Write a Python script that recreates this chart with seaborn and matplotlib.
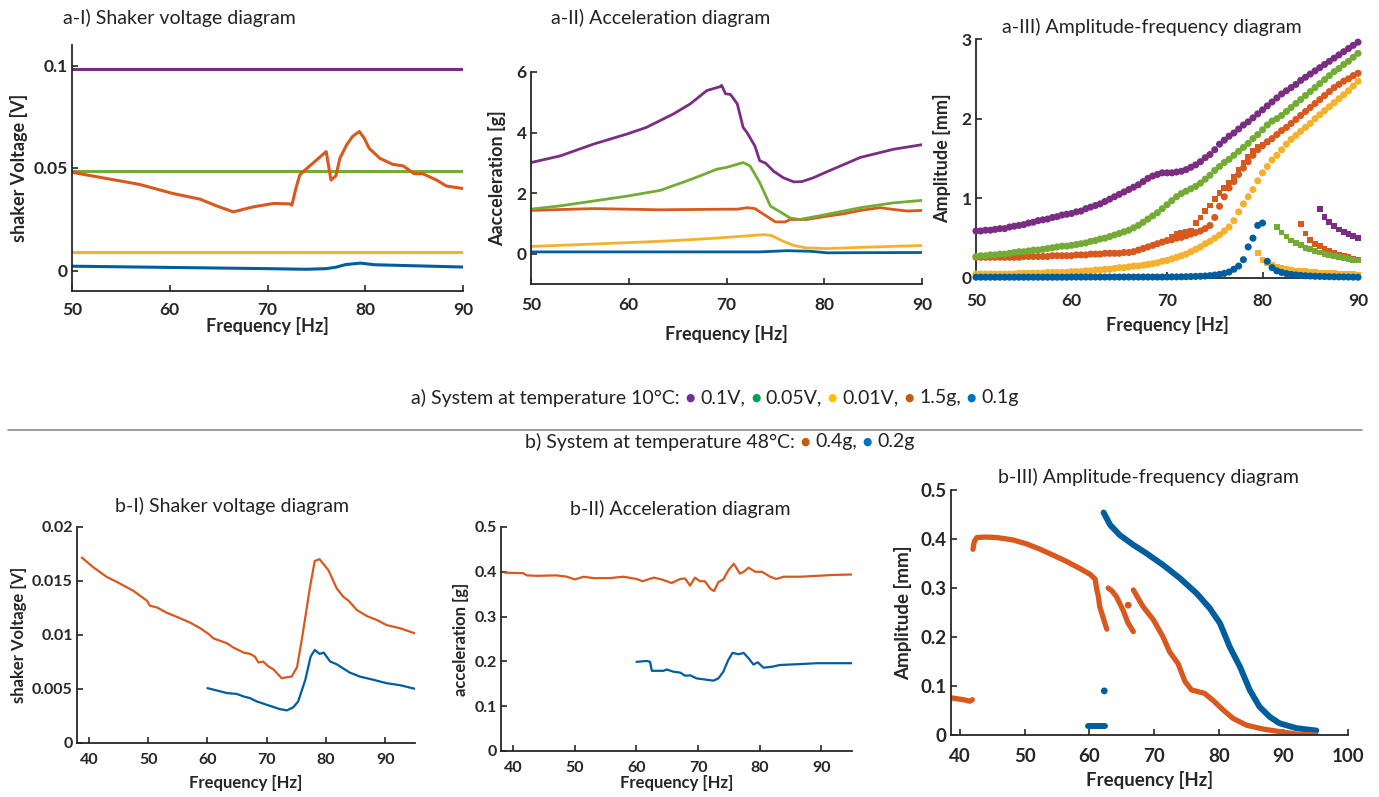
import numpy as np
import pandas as pd
import matplotlib
matplotlib.use("Agg")
import matplotlib.pyplot as plt
import seaborn as sns
from matplotlib.offsetbox import TextArea, HPacker, AnnotationBbox
from matplotlib.lines import Line2D

sns.set_style("ticks")
plt.rcParams['font.family'] = ['Lato', 'DejaVu Sans']

# ---------------- colours ----------------
PURPLE = '#7B2C83'
GREEN = '#72AC35'
YELLOW = '#F7B02B'
ORANGE = '#D9581E'
BLUE = '#005E9E'
DARK = '#262626'

# ---------------- a-I) shaker voltage (10 C) ----------------
A1_V_PURPLE = 0.0985
A1_V_GREEN = 0.0487
A1_V_YELLOW = 0.0092
A1_F_ORANGE = [50.0, 56.9, 60.3, 63.1, 64.8, 66.5, 68.5, 70.6, 72.3, 72.5, 72.9, 73.3, 73.6,
               76.0, 76.5, 77.0, 77.4, 78.1, 78.7, 79.4, 79.9, 80.4, 81.5, 82.8, 83.9, 85.0,
               85.9, 87.3, 88.3, 90.0]
A1_V_ORANGE = [0.0479, 0.0420, 0.0376, 0.0348, 0.0315, 0.0286, 0.0310, 0.0327, 0.0325, 0.0319,
               0.0400, 0.0466, 0.0480, 0.0580, 0.0441, 0.0462, 0.0547, 0.0613, 0.0654, 0.0678,
               0.0645, 0.0596, 0.0547, 0.0518, 0.0510, 0.0472, 0.0472, 0.0441, 0.0412, 0.0400]
A1_F_BLUE = [50.0, 60.0, 70.0, 74.0, 76.0, 77.0, 78.0, 79.5, 81.0, 85.0, 90.0]
A1_V_BLUE = [0.0021, 0.0015, 0.0009, 0.0006, 0.0009, 0.0016, 0.0029, 0.0036, 0.0028, 0.0023, 0.0017]

# ---------------- a-II) acceleration (10 C) ----------------
A2_F_PURPLE = [50.0, 53.0, 56.4, 59.8, 61.8, 64.6, 66.3, 68.0, 69.4, 69.5, 69.9, 70.4, 71.1,
               71.7, 72.1, 72.9, 73.4, 74.0, 74.8, 75.8, 76.9, 77.7, 78.9, 80.3, 83.7, 87.1, 90.0]
A2_G_PURPLE = [3.01, 3.23, 3.62, 3.95, 4.17, 4.62, 4.95, 5.39, 5.52, 5.56, 5.28, 5.26, 4.95,
               4.17, 4.00, 3.56, 3.07, 2.99, 2.73, 2.51, 2.37, 2.38, 2.51, 2.71, 3.18, 3.45, 3.60]
A2_F_GREEN = [50.0, 53.0, 56.4, 59.8, 63.2, 65.9, 67.3, 69.0, 70.0, 71.7, 72.4, 73.4, 74.5,
              75.5, 76.5, 77.5, 80.3, 83.7, 87.1, 90.0]
A2_G_GREEN = [1.47, 1.58, 1.74, 1.90, 2.09, 2.40, 2.57, 2.79, 2.85, 3.01, 2.90, 2.35, 1.57,
              1.38, 1.18, 1.13, 1.30, 1.52, 1.68, 1.76]
A2_F_ORANGE = [50.0, 56.4, 63.2, 70.0, 71.1, 72.1, 72.9, 74.1, 75.0, 76.0, 76.5, 78.2, 80.3,
               82.0, 83.7, 85.7, 87.1, 88.5, 90.0]
A2_G_ORANGE = [1.43, 1.49, 1.45, 1.47, 1.47, 1.52, 1.49, 1.24, 1.05, 1.05, 1.13, 1.13, 1.24,
               1.32, 1.43, 1.52, 1.46, 1.41, 1.43]
A2_F_YELLOW = [50.0, 56.4, 63.2, 68.3, 71.7, 73.8, 74.6, 75.8, 76.9, 78.2, 80.3, 83.7, 90.0]
A2_G_YELLOW = [0.24, 0.32, 0.41, 0.50, 0.58, 0.63, 0.60, 0.41, 0.27, 0.19, 0.17, 0.21, 0.27]
A2_F_BLUE = [50.0, 73.4, 76.2, 78.6, 80.3, 90.0]
A2_G_BLUE = [0.06, 0.06, 0.10, 0.08, 0.03, 0.04]

# ---------------- a-III) amplitude-frequency (10 C) ----------------
A3_F = [50.0, 50.5, 51.0, 51.5, 52.0, 52.5, 53.0, 53.5, 54.0, 54.5,
        55.0, 55.5, 56.0, 56.5, 57.0, 57.5, 58.0, 58.5, 59.0, 59.5,
        60.0, 60.5, 61.0, 61.5, 62.0, 62.5, 63.0, 63.5, 64.0, 64.5,
        65.0, 65.5, 66.0, 66.5, 67.0, 67.5, 68.0, 68.5, 69.0, 69.5,
        70.0, 70.5, 71.0, 71.5, 72.0, 72.5, 73.0, 73.5, 74.0, 74.5,
        75.0, 75.5, 76.0, 76.5, 77.0, 77.5, 78.0, 78.5, 79.0, 79.5,
        80.0, 80.5, 81.0, 81.5, 82.0, 82.5, 83.0, 83.5, 84.0, 84.5,
        85.0, 85.5, 86.0, 86.5, 87.0, 87.5, 88.0, 88.5, 89.0, 89.5,
        90.0]
A3_PURPLE = [0.59, 0.59, 0.60, 0.60, 0.61, 0.62, 0.62, 0.64, 0.65, 0.66,
             0.67, 0.69, 0.70, 0.72, 0.73, 0.74, 0.76, 0.77, 0.79, 0.80,
             0.81, 0.83, 0.84, 0.87, 0.89, 0.91, 0.93, 0.96, 0.99, 1.02,
             1.05, 1.08, 1.11, 1.14, 1.17, 1.21, 1.25, 1.28, 1.30, 1.32,
             1.32, 1.32, 1.33, 1.34, 1.36, 1.39, 1.42, 1.46, 1.51, 1.55,
             1.61, 1.68, 1.73, 1.78, 1.82, 1.87, 1.92, 1.96, 2.01, 2.06,
             2.11, 2.16, 2.21, 2.26, 2.31, 2.35, 2.39, 2.43, 2.48, 2.52,
             2.56, 2.60, 2.64, 2.68, 2.72, 2.76, 2.80, 2.84, 2.88, 2.92,
             2.96]
A3_GREEN = [0.27, 0.28, 0.28, 0.29, 0.29, 0.30, 0.30, 0.31, 0.32, 0.33,
            0.33, 0.34, 0.35, 0.35, 0.36, 0.37, 0.38, 0.39, 0.40, 0.40,
            0.41, 0.42, 0.43, 0.44, 0.46, 0.47, 0.49, 0.50, 0.52, 0.54,
            0.56, 0.58, 0.60, 0.63, 0.66, 0.70, 0.74, 0.78, 0.82, 0.87,
            0.92, 0.97, 1.02, 1.06, 1.09, 1.12, 1.15, 1.19, 1.24, 1.29,
            1.35, 1.40, 1.45, 1.49, 1.54, 1.59, 1.64, 1.69, 1.75, 1.80,
            1.86, 1.92, 1.97, 2.00, 2.04, 2.09, 2.14, 2.19, 2.24, 2.29,
            2.34, 2.39, 2.44, 2.49, 2.54, 2.59, 2.63, 2.68, 2.72, 2.77,
            2.82]
A3_ORANGE = [0.26, 0.26, 0.26, 0.26, 0.26, 0.26, 0.26, 0.26, 0.26, 0.26,
             0.27, 0.27, 0.27, 0.27, 0.27, 0.27, 0.28, 0.28, 0.28, 0.28,
             0.28, 0.29, 0.29, 0.29, 0.30, 0.30, 0.30, 0.31, 0.31, 0.31,
             0.31, 0.32, 0.32, 0.33, 0.35, 0.37, 0.39, 0.41, 0.43, 0.45,
             0.47, 0.48, 0.50, 0.51, 0.53, 0.55, 0.57, 0.59, 0.62, 0.66,
             0.76, 0.90, 1.02, 1.13, 1.21, 1.30, 1.38, 1.46, 1.54, 1.61,
             1.66, 1.71, 1.75, 1.80, 1.85, 1.89, 1.94, 1.99, 2.04, 2.09,
             2.14, 2.19, 2.24, 2.29, 2.34, 2.39, 2.43, 2.47, 2.50, 2.54,
             2.57]
A3_YELLOW = [0.05, 0.05, 0.05, 0.05, 0.05, 0.05, 0.05, 0.05, 0.05, 0.06,
             0.06, 0.06, 0.06, 0.06, 0.06, 0.07, 0.07, 0.07, 0.07, 0.07,
             0.08, 0.08, 0.08, 0.09, 0.09, 0.10, 0.10, 0.11, 0.11, 0.12,
             0.13, 0.13, 0.14, 0.15, 0.15, 0.16, 0.17, 0.18, 0.19, 0.21,
             0.22, 0.24, 0.26, 0.28, 0.30, 0.33, 0.36, 0.39, 0.43, 0.46,
             0.50, 0.54, 0.59, 0.64, 0.72, 0.83, 0.93, 1.02, 1.11, 1.22,
             1.32, 1.40, 1.48, 1.54, 1.61, 1.68, 1.74, 1.79, 1.84, 1.89,
             1.94, 2.00, 2.05, 2.10, 2.15, 2.20, 2.25, 2.30, 2.35, 2.41,
             2.47]
A3_BLUE = [0.010, 0.010, 0.010, 0.010, 0.010, 0.010, 0.010, 0.010, 0.010, 0.010,
           0.010, 0.010, 0.010, 0.010, 0.010, 0.010, 0.010, 0.010, 0.010, 0.010,
           0.012, 0.012, 0.012, 0.012, 0.012, 0.012, 0.012, 0.012, 0.012, 0.012,
           0.012, 0.012, 0.012, 0.012, 0.012, 0.012, 0.012, 0.012, 0.012, 0.012,
           0.013, 0.014, 0.014, 0.015, 0.016, 0.018, 0.020, 0.022, 0.025, 0.030,
           0.037, 0.046, 0.058, 0.075, 0.110, 0.150, 0.230, 0.390, 0.500, 0.660,
           0.690, 0.210, 0.130, 0.090, 0.070, 0.055, 0.045, 0.038, 0.032, 0.028,
           0.025, 0.022, 0.020, 0.018, 0.016, 0.015, 0.014, 0.013, 0.012, 0.011,
           0.010]
# square markers: other sweep direction, where it differs from the main curve
A3_SQ_OR_UP_F = [70.5, 71.0, 71.5, 72.0, 72.5, 73.0, 73.5, 74.0, 74.5, 75.0, 75.5,
                 76.0, 76.5, 77.0, 77.5, 78.0, 78.5, 79.0, 79.5, 80.0, 80.5]
A3_SQ_OR_UP = [0.52, 0.55, 0.57, 0.58, 0.59, 0.69, 0.76, 0.84, 0.91, 0.99, 1.07,
               1.13, 1.20, 1.27, 1.36, 1.44, 1.52, 1.59, 1.64, 1.67, 1.70]
A3_SQ_PU_F = [86.0, 86.5, 87.0, 87.5, 88.0, 88.5, 89.0, 89.5, 90.0]
A3_SQ_PU = [0.87, 0.77, 0.70, 0.65, 0.61, 0.58, 0.55, 0.53, 0.50]
A3_SQ_GR_F = [81.5, 82.0, 82.5, 83.0, 83.5, 84.0, 84.5, 85.0, 85.5, 86.0, 86.5, 87.0,
              87.5, 88.0, 88.5, 89.0, 89.5, 90.0]
A3_SQ_GR = [0.64, 0.57, 0.52, 0.47, 0.44, 0.41, 0.38, 0.36, 0.34, 0.32, 0.30, 0.29,
            0.275, 0.265, 0.25, 0.24, 0.23, 0.22]
A3_SQ_OR_F = [84.0, 84.5, 85.0, 85.5, 86.0, 86.5, 87.0, 87.5, 88.0, 88.5, 89.0, 89.5, 90.0]
A3_SQ_OR = [0.68, 0.56, 0.48, 0.43, 0.40, 0.37, 0.34, 0.31, 0.29, 0.28, 0.26, 0.24, 0.23]
A3_SQ_YE_F = [79.5, 80.0, 80.5, 81.0, 81.5, 82.0, 82.5, 83.0, 83.5, 84.0, 84.5, 85.0,
              85.5, 86.0, 86.5, 87.0, 87.5, 88.0, 88.5, 89.0, 89.5, 90.0]
A3_SQ_YE = [0.31, 0.23, 0.19, 0.16, 0.14, 0.125, 0.11, 0.10, 0.095, 0.09, 0.085, 0.08,
            0.075, 0.07, 0.067, 0.063, 0.06, 0.057, 0.054, 0.05, 0.048, 0.045]

# ---------------- b-I) shaker voltage (48 C) ----------------
B1_F_ORANGE = [38.8, 40.8, 43.0, 44.7, 47.5, 49.8, 50.3, 51.5, 53.1, 54.8, 57.1, 58.8, 60.2,
               61.0, 63.3, 64.4, 66.1, 67.2, 68.0, 68.6, 69.4, 70.3, 71.1, 72.5, 73.4, 74.2,
               75.1, 75.9, 77.3, 78.1, 78.9, 80.4, 81.8, 82.9, 83.8, 85.2, 86.9, 88.6, 90.2,
               92.5, 95.0]
B1_V_ORANGE = [0.01717, 0.01625, 0.01538, 0.01492, 0.01409, 0.01317, 0.01271, 0.01255,
               0.01206, 0.01169, 0.01114, 0.01062, 0.01009, 0.00969, 0.00923, 0.00883,
               0.00837, 0.00825, 0.00800, 0.00745, 0.00754, 0.00708, 0.00683, 0.00600,
               0.00609, 0.00615, 0.00702, 0.00954, 0.01446, 0.01686, 0.01702, 0.01600,
               0.01431, 0.01354, 0.01317, 0.01231, 0.01175, 0.01138, 0.01092, 0.01062,
               0.01015]
B1_F_BLUE = [60.0, 61.6, 63.3, 64.9, 66.1, 67.2, 68.3, 70.0, 72.2, 73.4, 74.5, 75.3, 76.5,
             77.4, 78.1, 78.9, 79.6, 80.7, 81.8, 84.0, 85.7, 88.0, 90.2, 92.5, 95.0]
B1_V_BLUE = [0.00508, 0.00486, 0.00462, 0.00455, 0.00431, 0.00415, 0.00385, 0.00354,
             0.00314, 0.00302, 0.00332, 0.00385, 0.00585, 0.00800, 0.00862, 0.00825,
             0.00837, 0.00754, 0.00729, 0.00652, 0.00615, 0.00585, 0.00554, 0.00535,
             0.00502]

# ---------------- b-II) acceleration (48 C) ----------------
B2_F_ORANGE = [38.6, 41.6, 42.2, 43.8, 47.0, 48.7, 50.0, 51.4, 53.0, 55.7, 57.9, 60.0, 61.0,
               62.8, 64.1, 65.7, 67.1, 67.9, 68.7, 69.5, 70.3, 71.1, 72.0, 72.6, 73.3, 74.1,
               74.9, 75.8, 76.8, 77.4, 78.2, 79.3, 80.4, 81.7, 82.7, 83.9, 86.6, 89.3, 92.0,
               95.0]
B2_G_ORANGE = [0.398, 0.397, 0.392, 0.391, 0.392, 0.389, 0.383, 0.389, 0.386, 0.386, 0.389,
               0.384, 0.379, 0.387, 0.383, 0.375, 0.384, 0.385, 0.369, 0.387, 0.379, 0.379,
               0.362, 0.357, 0.377, 0.383, 0.403, 0.418, 0.396, 0.400, 0.409, 0.400, 0.400,
               0.389, 0.384, 0.389, 0.389, 0.391, 0.393, 0.394]
B2_F_BLUE = [60.0, 61.7, 62.2, 62.5, 64.4, 64.9, 66.0, 67.1, 67.9, 68.7, 69.8, 70.9, 72.5,
             73.3, 74.1, 74.9, 75.6, 76.6, 77.4, 78.2, 79.0, 79.7, 80.6, 82.0, 83.3, 86.6,
             89.3, 95.0]
B2_G_BLUE = [0.199, 0.201, 0.199, 0.179, 0.179, 0.182, 0.177, 0.175, 0.168, 0.169, 0.162,
             0.160, 0.157, 0.162, 0.177, 0.203, 0.219, 0.216, 0.219, 0.207, 0.193, 0.198,
             0.186, 0.188, 0.192, 0.194, 0.196, 0.196]

# ---------------- b-III) amplitude-frequency (48 C) ----------------
B3_OR1_F = [38.6, 39.5, 40.5, 41.5, 41.9]
B3_OR1_A = [0.076, 0.074, 0.072, 0.069, 0.072]
B3_OR2_F = [42.0, 42.2, 42.6, 44.0, 45.7, 48.2, 50.3, 52.4, 54.4, 56.5, 58.5, 60.1, 60.9,
            61.1, 61.4, 61.6, 62.1, 62.4, 62.7]
B3_OR2_A = [0.379, 0.395, 0.403, 0.404, 0.403, 0.398, 0.390, 0.379, 0.367, 0.354, 0.340,
            0.328, 0.318, 0.300, 0.282, 0.262, 0.241, 0.228, 0.216]
B3_OR3_F = [62.9, 63.5, 64.2, 65.2, 66.0, 66.8]
B3_OR3_A = [0.300, 0.294, 0.282, 0.255, 0.228, 0.211]
B3_OR4_F = [66.8, 68.3, 69.9, 71.4, 72.4, 73.7, 74.8, 75.8, 77.8, 79.1, 80.7, 82.2, 84.3,
            86.9, 89.4, 92.0, 95.1]
B3_OR4_A = [0.296, 0.262, 0.235, 0.200, 0.170, 0.146, 0.109, 0.092, 0.085, 0.071, 0.051,
            0.034, 0.020, 0.012, 0.007, 0.002, 0.000]
B3_OR_DOT_F = [66.0]
B3_OR_DOT_A = [0.265]
B3_BL1_F = [59.8, 61.0, 62.4]
B3_BL1_A = [0.018, 0.018, 0.018]
B3_BL2_F = [62.2, 63.2, 64.7, 66.8, 68.8, 71.4, 74.0, 76.6, 78.6, 80.2, 81.7, 83.3, 84.8,
            86.3, 87.9, 89.4, 92.0, 95.1]
B3_BL2_A = [0.454, 0.429, 0.408, 0.388, 0.371, 0.347, 0.320, 0.289, 0.259, 0.228, 0.180,
            0.139, 0.092, 0.058, 0.037, 0.024, 0.014, 0.009]
B3_BL_DOT_F = [62.3]
B3_BL_DOT_A = [0.090]

# ---------------- figure ----------------
W, H = 1379, 797
fig = plt.figure(figsize=(W / 100, H / 100), dpi=100)


def px_axes(l, r, t, b):
    return fig.add_axes([l / W, 1 - b / H, (r - l) / W, (b - t) / H])


def style(ax, xlim, ylim, xticks, yticks, ylabels, tfs, lfs, xlabel, ylabel, xpad, ypad, xtpad):
    ax.set_xlim(*xlim)
    ax.set_ylim(*ylim)
    ax.set_xticks(xticks)
    ax.set_xticklabels([str(t) for t in xticks])
    ax.set_yticks(yticks)
    ax.set_yticklabels(ylabels)
    sns.despine(ax=ax)
    for s in ('left', 'bottom'):
        ax.spines[s].set_color(DARK)
        ax.spines[s].set_linewidth(1.3)
    ax.tick_params(direction='in', length=4, width=1.2, colors=DARK, labelsize=tfs, pad=3)
    ax.tick_params(axis='x', pad=xtpad)
    for lbl in ax.get_xticklabels() + ax.get_yticklabels():
        lbl.set_fontweight('bold')
    ax.set_xlabel(xlabel, fontsize=lfs, fontweight='bold', color=DARK, labelpad=xpad)
    ax.set_ylabel(ylabel, fontsize=lfs, fontweight='bold', color=DARK, labelpad=ypad)


def line(ax, x, y, c, lw):
    sns.lineplot(x=x, y=y, ax=ax, color=c, lw=lw, estimator=None, sort=False,
                 solid_capstyle='round')


def dots(ax, x, y, c, s, marker='o'):
    sns.scatterplot(x=x, y=y, ax=ax, color=c, s=s, marker=marker, linewidth=0,
                    edgecolor='none', clip_on=False, zorder=3)


# a-I
ax = px_axes(72, 463, 45, 291)
line(ax, [50, 90], [A1_V_PURPLE, A1_V_PURPLE], PURPLE, 2.2)
line(ax, [50, 90], [A1_V_GREEN, A1_V_GREEN], GREEN, 2.2)
line(ax, [50, 90], [A1_V_YELLOW, A1_V_YELLOW], YELLOW, 2.2)
line(ax, A1_F_ORANGE, A1_V_ORANGE, ORANGE, 2.2)
line(ax, A1_F_BLUE, A1_V_BLUE, BLUE, 2.2)
style(ax, (50, 90), (-0.01, 0.11), [50, 60, 70, 80, 90], [0, 0.05, 0.1], ['0', '0.05', '0.1'],
      12.5, 13, 'Frequency [Hz]', 'shaker Voltage [V]', -1, 4, 8)

# a-II
ax = px_axes(531, 922, 72, 284)
line(ax, A2_F_PURPLE, A2_G_PURPLE, PURPLE, 2.0)
line(ax, A2_F_ORANGE, A2_G_ORANGE, ORANGE, 2.0)
line(ax, A2_F_GREEN, A2_G_GREEN, GREEN, 2.0)
line(ax, A2_F_YELLOW, A2_G_YELLOW, YELLOW, 2.0)
line(ax, A2_F_BLUE, A2_G_BLUE, BLUE, 2.0)
style(ax, (50, 90), (-1, 6), [50, 60, 70, 80, 90], [0, 2, 4, 6], ['0', '2', '4', '6'],
      12.5, 13, 'Frequency [Hz]', 'Aacceleration [g]', 9, 8, 9)

# a-III
ax = px_axes(976, 1358, 39, 278)
dots(ax, A3_F, A3_YELLOW, YELLOW, 26)
dots(ax, A3_SQ_YE_F, A3_SQ_YE, YELLOW, 17, 's')
dots(ax, A3_F, A3_BLUE, BLUE, 26)
dots(ax, A3_F, A3_ORANGE, ORANGE, 26)
dots(ax, A3_SQ_OR_UP_F, A3_SQ_OR_UP, ORANGE, 17, 's')
dots(ax, A3_SQ_OR_F, A3_SQ_OR, ORANGE, 17, 's')
dots(ax, A3_F, A3_GREEN, GREEN, 26)
dots(ax, A3_SQ_GR_F, A3_SQ_GR, GREEN, 17, 's')
dots(ax, A3_F, A3_PURPLE, PURPLE, 26)
dots(ax, A3_SQ_PU_F, A3_SQ_PU, PURPLE, 17, 's')
style(ax, (50, 90), (0, 3), [50, 60, 70, 80, 90], [0, 1, 2, 3], ['0', '1', '2', '3'],
      12.5, 13, 'Frequency [Hz]', 'Amplitude [mm]', 5, 8, 11)

# b-I
ax = px_axes(77, 415, 527, 743)
line(ax, B1_F_ORANGE, B1_V_ORANGE, ORANGE, 1.6)
line(ax, B1_F_BLUE, B1_V_BLUE, BLUE, 1.6)
style(ax, (38, 95), (0, 0.02), [40, 50, 60, 70, 80, 90], [0, 0.005, 0.01, 0.015, 0.02],
      ['0', '0.005', '0.01', '0.015', '0.02'], 11.5, 12, 'Frequency [Hz]',
      'shaker Voltage [V]', 6, 4, 7)

# b-II
ax = px_axes(501, 852, 527, 751)
line(ax, B2_F_ORANGE, B2_G_ORANGE, ORANGE, 1.6)
line(ax, B2_F_BLUE, B2_G_BLUE, BLUE, 1.6)
style(ax, (38, 95), (0, 0.5), [40, 50, 60, 70, 80, 90], [0, 0.1, 0.2, 0.3, 0.4, 0.5],
      ['0', '0.1', '0.2', '0.3', '0.4', '0.5'], 11.5, 12, 'Frequency [Hz]',
      'acceleration [g]', 0, 4, 7)

# b-III
ax = px_axes(951, 1348, 490, 735)
line(ax, B3_BL1_F, B3_BL1_A, BLUE, 4.3)
line(ax, B3_BL2_F, B3_BL2_A, BLUE, 4.3)
dots(ax, B3_BL_DOT_F, B3_BL_DOT_A, BLUE, 24)
line(ax, B3_OR1_F, B3_OR1_A, ORANGE, 3.8)
line(ax, B3_OR2_F, B3_OR2_A, ORANGE, 3.8)
line(ax, B3_OR3_F, B3_OR3_A, ORANGE, 3.8)
line(ax, B3_OR4_F, B3_OR4_A, ORANGE, 3.8)
dots(ax, B3_OR_DOT_F, B3_OR_DOT_A, ORANGE, 24)
style(ax, (38.6, 100), (0, 0.5), [40, 50, 60, 70, 80, 90, 100], [0, 0.1, 0.2, 0.3, 0.4, 0.5],
      ['0', '0.1', '0.2', '0.3', '0.4', '0.5'], 13.5, 13.5, 'Frequency [Hz]',
      'Amplitude [mm]', 5, 6, 9)

# titles
TITLE_FS = 14
for txt, x, y in [('a-I) Shaker voltage diagram', 179, 18),
                  ('a-II) Acceleration diagram', 661, 18),
                  ('a-III) Amplitude-frequency diagram', 1152, 27),
                  ('b-I) Shaker voltage diagram', 232, 506),
                  ('b-II) Acceleration diagram', 680, 509),
                  ('b-III) Amplitude-frequency diagram', 1148, 477)]:
    fig.text(x / W, 1 - y / H, txt, ha='center', va='center', fontsize=TITLE_FS, color='#222222')

# legends
LEG_A = [('a) System at temperature 10°C:', None), ('dot', '#7030A0'), ('0.1V,', None),
         ('dot', '#00A050'), ('0.05V,', None), ('dot', '#FFC000'), ('0.01V,', None),
         ('dot', '#C55A11'), ('1.5g,', None), ('dot', '#0070C0'), ('0.1g', None)]
LEG_B = [('b) System at temperature 48°C:', None), ('dot', '#C55A11'), ('0.4g,', None),
         ('dot', '#0070C0'), ('0.2g', None)]


def legend_line(parts, xc, yc, fs):
    kids = []
    for txt, col in parts:
        if txt == 'dot':
            kids.append(TextArea('●', textprops=dict(color=col, fontsize=fs * 0.55,
                                                      family='DejaVu Sans')))
        else:
            kids.append(TextArea(txt, textprops=dict(color='#222222', fontsize=fs)))
    box = HPacker(children=kids, align='center', pad=0, sep=4)
    ab = AnnotationBbox(box, (xc / W, 1 - yc / H), xycoords='figure fraction',
                        frameon=False, box_alignment=(0.5, 0.5), pad=0)
    fig.add_artist(ab)


legend_line(LEG_A, 715, 398, 14)
legend_line(LEG_B, 720, 442, 14)
fig.add_artist(Line2D([8 / W, 1362 / W], [1 - 430 / H, 1 - 430 / H], color='#8c8c8c', lw=1.2))

fig.savefig('out.png', dpi=100)
